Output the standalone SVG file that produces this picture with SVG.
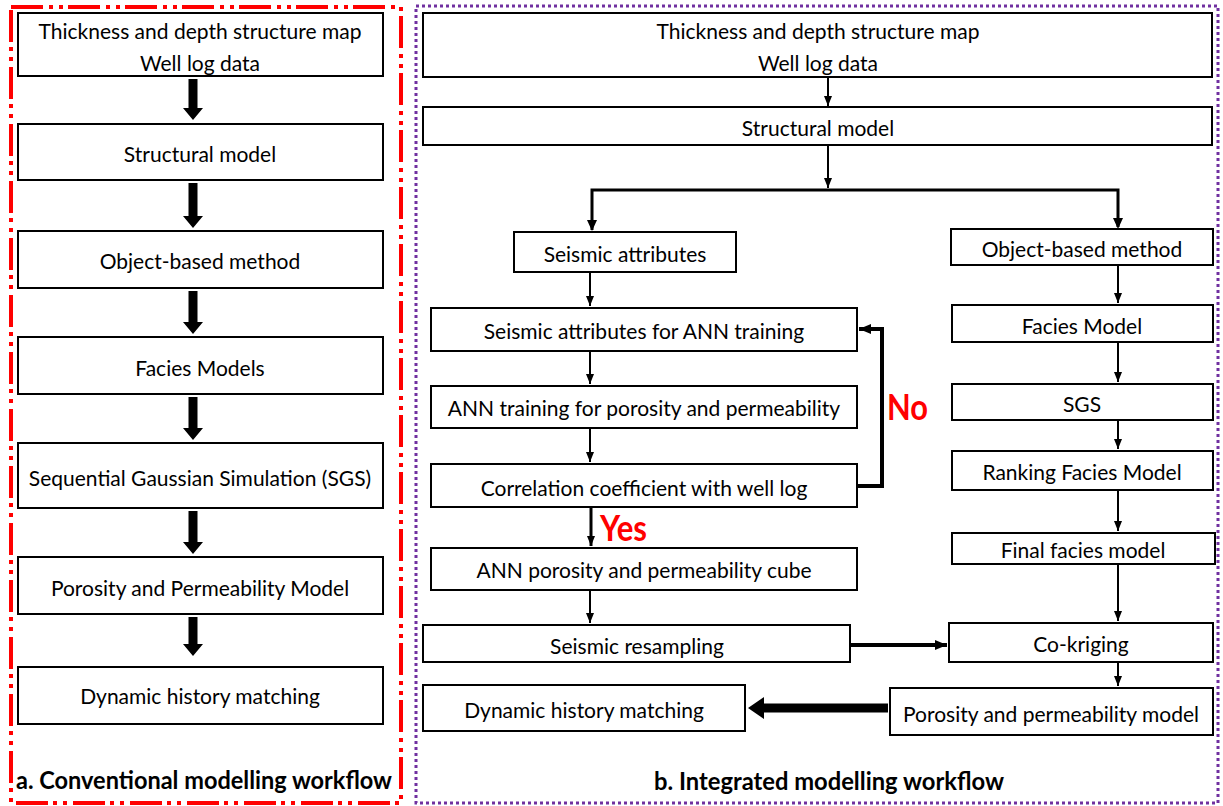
<svg xmlns="http://www.w3.org/2000/svg" width="1223" height="806" viewBox="0 0 1223 806">
<defs>
<style>
.box{fill:#fff;stroke:#000;stroke-width:2}
.t{font-family:Lato,"Liberation Sans",sans-serif;font-size:21px;fill:#000;text-anchor:middle;dominant-baseline:central}
.cap{font-family:Lato,"Liberation Sans",sans-serif;font-size:24px;font-weight:bold;fill:#000}
.lbl{font-family:Lato,"Liberation Sans",sans-serif;font-size:37px;font-weight:bold;fill:#ff0000}
.thin{fill:none;stroke:#000;stroke-width:2;marker-end:url(#ah)}
.mid{fill:none;stroke:#000;stroke-width:3;marker-end:url(#ah)}
.thick{fill:none;stroke:#000;stroke-width:4;marker-end:url(#ah2)}
.fat{fill:#000}
</style>
<marker id="ah" markerWidth="10" markerHeight="10" viewBox="0 0 10 10" refX="10" refY="5" markerUnits="userSpaceOnUse" orient="auto">
<path d="M0,1 L10,5 L0,9 Z" fill="#000"/>
</marker>
<marker id="ah2" markerWidth="12" markerHeight="12" viewBox="0 0 12 12" refX="12" refY="6" markerUnits="userSpaceOnUse" orient="auto">
<path d="M0,1 L12,6 L0,11 Z" fill="#000"/>
</marker>
</defs>
<rect width="1223" height="806" fill="#fff"/>

<g id="frames">
<rect x="11" y="7" width="390" height="796" fill="none" stroke="#ff0000" stroke-width="4" stroke-dasharray="32 6 4 6 4 5"/>
<rect x="416" y="6" width="802" height="797" fill="none" stroke="#7030a0" stroke-width="3" stroke-dasharray="3 3"/>
</g>

<g id="connectors">
<polygon class="fat" points="188.5,79 197.5,79 197.5,108 203,108 193,120 183,108 188.5,108"/>
<polygon class="fat" points="188.5,183 197.5,183 197.5,216 203,216 193,228 183,216 188.5,216"/>
<polygon class="fat" points="188.5,291 197.5,291 197.5,322 203,322 193,334 183,322 188.5,322"/>
<polygon class="fat" points="188.5,397 197.5,397 197.5,428 203,428 193,440 183,428 188.5,428"/>
<polygon class="fat" points="188.5,511 197.5,511 197.5,542 203,542 193,554 183,542 188.5,542"/>
<polygon class="fat" points="188.5,617 197.5,617 197.5,644 203,644 193,656 183,644 188.5,644"/>
<line class="thin" x1="828" y1="77" x2="828" y2="106"/>
<line class="thin" x1="828" y1="145" x2="828" y2="188"/>
<polyline fill="none" stroke="#000" stroke-width="3" points="592,230 592,190 1118,190 1118,227"/>
<path d="M587,220 L597,220 L592,231 Z" fill="#000"/>
<path d="M1113,218 L1123,218 L1118,229 Z" fill="#000"/>
<line class="thin" x1="590" y1="272" x2="590" y2="306"/>
<line class="thin" x1="590" y1="351" x2="590" y2="384"/>
<line class="thin" x1="590" y1="428" x2="590" y2="462"/>
<line class="mid" x1="591" y1="507" x2="591" y2="546"/>
<line class="thin" x1="590" y1="590" x2="590" y2="623"/>
<polyline class="thick" points="857,486 882,486 882,329 859,329"/>
<line class="thin" x1="1118" y1="265" x2="1118" y2="303"/>
<line class="thin" x1="1118" y1="342" x2="1118" y2="382"/>
<line class="thin" x1="1118" y1="420" x2="1118" y2="449"/>
<line class="thin" x1="1118" y1="490" x2="1118" y2="531"/>
<line class="thin" x1="1118" y1="564" x2="1118" y2="621"/>
<line class="thin" x1="1118" y1="662" x2="1118" y2="686"/>
<line class="thick" x1="851" y1="645" x2="947" y2="645"/>
<polygon class="fat" points="888,703.5 764,703.5 764,697 748,708 764,719 764,712.5 888,712.5"/>
</g>

<g id="a1"><rect class="box" x="18" y="13" width="365" height="63"/><text class="t" x="200" y="30">Thickness and depth structure map</text><text class="t" x="200" y="62">Well log data</text></g>
<g id="a2"><rect class="box" x="18" y="124" width="365" height="56"/><text class="t" x="200" y="153">Structural model</text></g>
<g id="a3"><rect class="box" x="18" y="231" width="365" height="57"/><text class="t" x="200" y="260">Object-based method</text></g>
<g id="a4"><rect class="box" x="18" y="337" width="365" height="57"/><text class="t" x="200" y="367">Facies Models</text></g>
<g id="a5"><rect class="box" x="18" y="443" width="365" height="65"/><text class="t" x="200" y="477">Sequential Gaussian Simulation (SGS)</text></g>
<g id="a6"><rect class="box" x="18" y="557" width="365" height="57"/><text class="t" x="200" y="587">Porosity and Permeability Model</text></g>
<g id="a7"><rect class="box" x="18" y="667" width="365" height="57"/><text class="t" x="200" y="695">Dynamic history matching</text></g>

<g id="b1"><rect class="box" x="423" y="13" width="789" height="64"/><text class="t" x="818" y="30">Thickness and depth structure map</text><text class="t" x="818" y="62">Well log data</text></g>
<g id="b2"><rect class="box" x="423" y="107" width="789" height="38"/><text class="t" x="818" y="127">Structural model</text></g>
<g id="b3"><rect class="box" x="514" y="232" width="222" height="40"/><text class="t" x="625" y="253">Seismic attributes</text></g>
<g id="b4"><rect class="box" x="951" y="229" width="262" height="36"/><text class="t" x="1082" y="248">Object-based method</text></g>
<g id="b5"><rect class="box" x="431" y="308" width="426" height="43"/><text class="t" x="644" y="330">Seismic attributes for ANN training</text></g>
<g id="b6"><rect class="box" x="431" y="386" width="426" height="42"/><text class="t" x="644" y="407">ANN training for porosity and permeability</text></g>
<g id="b7"><rect class="box" x="431" y="464" width="426" height="43"/><text class="t" x="644" y="487">Correlation coefficient with well log</text></g>
<g id="b8"><rect class="box" x="431" y="548" width="426" height="42"/><text class="t" x="644" y="569">ANN porosity and permeability cube</text></g>
<g id="b9"><rect class="box" x="423" y="625" width="427" height="37"/><text class="t" x="637" y="645">Seismic resampling</text></g>
<g id="b10"><rect class="box" x="423" y="685" width="322" height="46"/><text class="t" x="584" y="709">Dynamic history matching</text></g>
<g id="b11"><rect class="box" x="952" y="305" width="261" height="37"/><text class="t" x="1082" y="325">Facies Model</text></g>
<g id="b12"><rect class="box" x="952" y="384" width="261" height="36"/><text class="t" x="1082" y="403">SGS</text></g>
<g id="b13"><rect class="box" x="952" y="451" width="261" height="39"/><text class="t" x="1082" y="471">Ranking Facies Model</text></g>
<g id="b14"><rect class="box" x="952" y="533" width="263" height="31"/><text class="t" x="1083" y="549">Final facies model</text></g>
<g id="b15"><rect class="box" x="949" y="623" width="264" height="39"/><text class="t" x="1081" y="643">Co-kriging</text></g>
<g id="b16"><rect class="box" x="890" y="688" width="323" height="47"/><text class="t" x="1051" y="713">Porosity and permeability model</text></g>

<g id="labels">
<text class="lbl" x="887" y="420" textLength="41" lengthAdjust="spacingAndGlyphs">No</text>
<text class="lbl" x="600" y="541" textLength="47" lengthAdjust="spacingAndGlyphs">Yes</text>
<text class="cap" x="16" y="789" textLength="376" lengthAdjust="spacingAndGlyphs">a. Conventional modelling workflow</text>
<text class="cap" x="654" y="790" textLength="350" lengthAdjust="spacingAndGlyphs">b. Integrated modelling workflow</text>
</g>
</svg>
